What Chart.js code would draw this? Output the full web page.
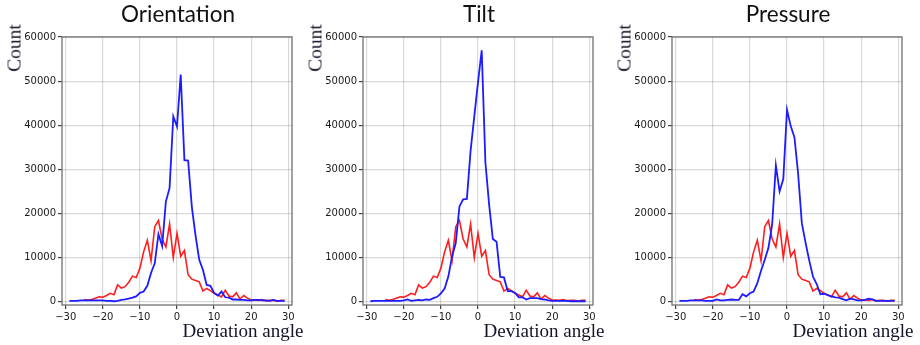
<!DOCTYPE html>
<html>
<head>
<meta charset="utf-8">
<script src="https://cdn.jsdelivr.net/npm/chart.js@4.4.1/dist/chart.umd.min.js"></script>
<style>
  html, body { margin: 0; padding: 0; background: #fff; }
  body { width: 920px; height: 345px; position: relative; overflow: hidden; }
  canvas.panel { position: absolute; top: 0; }
  .title {
    position: absolute; top: 3px; transform: translateX(-50%);
    font-family: Lato, 'Open Sans', sans-serif; font-size: 22.5px; line-height: 22px;
    color: #111; white-space: nowrap; z-index: 2;
  }
  .ylab {
    position: absolute; transform: translate(-50%, -50%) rotate(-90deg);
    font-family: 'Liberation Serif', 'Times New Roman', serif; font-size: 19.5px; line-height: 19px;
    color: #14142a; white-space: nowrap; z-index: 2;
  }
  .xlab {
    position: absolute; top: 321px; transform: translateX(-50%);
    font-family: 'Liberation Serif', 'Times New Roman', serif; font-size: 19px; line-height: 19px;
    color: #14142a; white-space: nowrap; z-index: 2;
  }
</style>
</head>
<body>
<canvas id="c0" class="panel"></canvas>
<canvas id="c1" class="panel"></canvas>
<canvas id="c2" class="panel"></canvas>

<script>
// Deviation angle bins (degrees)
const angles = [-29,-28,-27,-26,-25,-24,-23,-22,-21,-20,-19,-18,-17,-16,-15,-14,-13,-12,-11,-10,
                -9,-8,-7,-6,-5,-4,-3,-2,-1,0,1,2,3,4,5,6,7,8,9,10,
                11,12,13,14,15,16,17,18,19,20,21,22,23,24,25,26,27,28,29];

// Reference distribution (red), shared by all three panels
const baseline = [null,null,null,null,500,300,500,800,1100,1000,1400,1900,1600,3800,3100,3400,4400,5800,5500,7600,
                  11300,13900,9300,17000,18400,14200,12400,17600,10000,15500,10300,11600,6100,5100,4800,4500,2400,3000,2500,1900,
                  1500,1100,2600,1300,1100,2000,600,1400,800,400,400,300,500,200,300,300,100,300,300];

// Per-feature distributions (blue)
const orientation = [200,200,200,300,300,300,300,300,300,300,200,200,100,200,400,500,700,900,1200,2000,
                     2300,3600,6500,8700,15300,12600,22700,25800,42000,39700,51500,32100,32000,21500,15000,9500,7200,3800,3600,2000,
                     1400,2300,1000,900,500,500,400,400,300,300,400,400,300,300,200,400,200,200,200];

const tilt = [100,200,200,200,200,200,200,200,200,300,500,200,300,400,300,500,400,800,1100,1900,
              3000,5700,10200,13300,21600,23200,23300,34200,42000,49700,57000,31500,22000,14200,13600,5600,5500,2400,2400,2000,
              1000,1000,500,800,800,800,600,500,300,200,200,200,200,200,100,100,100,100,100];

const pressure = [200,200,200,300,300,300,300,200,200,200,500,300,300,400,500,400,400,1700,1200,1900,
                  2300,4200,7000,9500,12200,17500,30900,25000,27800,43500,39800,37300,29000,17800,13400,9300,5700,4000,1700,1800,
                  1500,1200,1000,900,600,300,700,500,300,300,400,700,500,200,200,200,200,200,200];

const panelTitles = ['Orientation', 'Tilt', 'Pressure'];
const panelSeries = [orientation, tilt, pressure];
const xTickValues = [-30, -20, -10, 0, 10, 20, 30];
const yTickValues = [0, 10000, 20000, 30000, 40000, 50000, 60000];
const yAxisTitle = 'Count';
const xAxisTitle = 'Deviation angle';

// Layout of each panel (plot-area left edge in page pixels)
const plotLefts = [62, 363, 672];
const AXIS_W = 58, PLOT_W = 230, PLOT_TOP = 37, PLOT_H = 268, XAXIS_H = 25, RIGHT_PAD = 12;

const toPoints = vals => angles.map((a, i) => ({ x: a, y: vals[i] }));
const fmt = v => (v < 0 ? '\u2212' + Math.abs(v) : String(v));

// Box around the plotting area
const frame = {
  id: 'frame',
  afterDatasetsDraw(chart) {
    const { ctx, chartArea: a } = chart;
    ctx.save();
    ctx.strokeStyle = '#707070';
    ctx.lineWidth = 1.3;
    ctx.strokeRect(a.left, a.top, a.right - a.left, a.bottom - a.top);
    ctx.restore();
  }
};

const tickFont = { family: "'DejaVu Sans', sans-serif", size: 10 };
const gridStyle = { color: 'rgba(0,0,0,0.15)', lineWidth: 1.2, tickColor: '#444', tickLength: 4 };

function makePanel(idx) {
  const canvas = document.getElementById('c' + idx);
  const left = plotLefts[idx];
  canvas.width = AXIS_W + PLOT_W + RIGHT_PAD;
  canvas.height = PLOT_TOP + PLOT_H + XAXIS_H;
  canvas.style.left = (left - AXIS_W) + 'px';

  new Chart(canvas, {
    type: 'line',
    data: {
      datasets: [
        { data: toPoints(panelSeries[idx]), borderColor: '#1c1cff', borderWidth: 1.8,
          pointRadius: 0, tension: 0 },
        { data: toPoints(baseline), borderColor: '#ff1e1e', borderWidth: 1.6,
          pointRadius: 0, tension: 0 }
      ]
    },
    options: {
      responsive: false,
      animation: false,
      layout: { padding: { top: PLOT_TOP, right: RIGHT_PAD, left: 0, bottom: 0 } },
      plugins: { legend: { display: false }, tooltip: { enabled: false }, title: { display: false } },
      scales: {
        x: {
          type: 'linear', min: -31, max: 31,
          afterBuildTicks: s => { s.ticks = xTickValues.map(v => ({ value: v })); },
          afterFit: s => { s.height = XAXIS_H; },
          grid: gridStyle,
          border: { display: false },
          ticks: { font: tickFont, color: '#1a1a1a', padding: 2, autoSkip: false, maxRotation: 0, callback: fmt }
        },
        y: {
          type: 'linear', min: -750, max: 60000,
          afterBuildTicks: s => { s.ticks = yTickValues.map(v => ({ value: v })); },
          afterFit: s => { s.width = AXIS_W; },
          grid: gridStyle,
          border: { display: false },
          ticks: { font: tickFont, color: '#1a1a1a', padding: 2, autoSkip: false, callback: fmt }
        }
      }
    },
    plugins: [frame]
  });

  // Panel title and axis titles
  const cx = left + PLOT_W / 2;
  const t = document.createElement('div');
  t.className = 'title'; t.textContent = panelTitles[idx]; t.style.left = (cx + 1) + 'px';
  document.body.appendChild(t);

  const yl = document.createElement('div');
  yl.className = 'ylab'; yl.textContent = yAxisTitle;
  yl.style.left = (left - 48) + 'px'; yl.style.top = '48px';
  document.body.appendChild(yl);

  const xl = document.createElement('div');
  xl.className = 'xlab'; xl.textContent = xAxisTitle;
  xl.style.left = (left + 181) + 'px';
  document.body.appendChild(xl);
}

[0, 1, 2].forEach(makePanel);
</script>
</body>
</html>
